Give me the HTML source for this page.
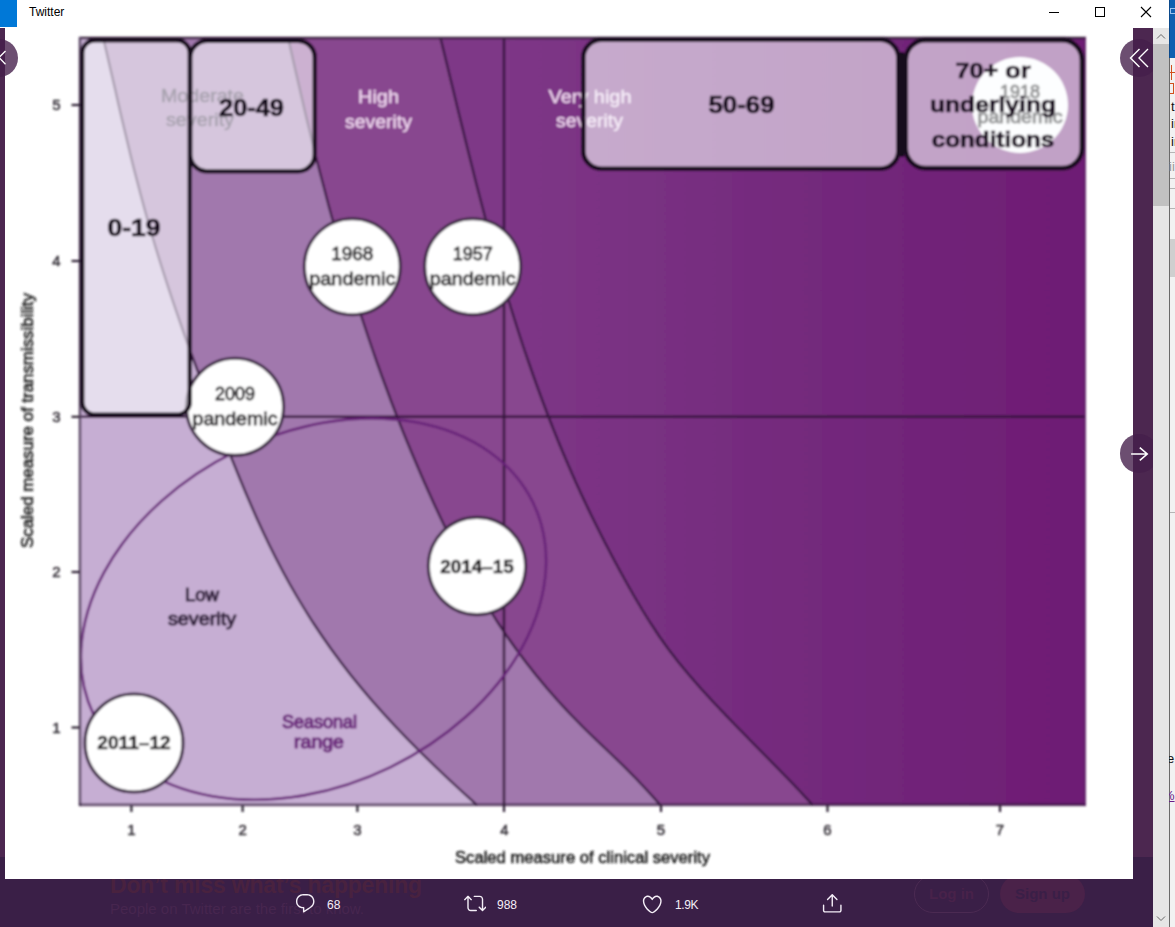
<!DOCTYPE html>
<html><head><meta charset="utf-8"><title>Twitter</title>
<style>
html,body{margin:0;padding:0}
body{width:1175px;height:927px;position:relative;overflow:hidden;background:#fff;font-family:"Liberation Sans", sans-serif}
.abs{position:absolute}
.cnt{position:absolute;color:#f4eef7;font-size:12px;line-height:14px;top:898px}
.ghost{position:absolute;color:#49223f;white-space:nowrap}
.pill{position:absolute;top:875px;height:36px;border-radius:19px;font-weight:bold;font-size:15px;line-height:36px;text-align:center}
.nav{position:absolute;width:38px;height:38px;border-radius:50%;background:rgba(69,30,75,0.79)}
</style></head><body>
<!-- lightbox backdrop strips -->
<div class="abs" style="left:0;top:28px;width:1153px;height:899px;background:#4c2750"></div>
<div class="abs" style="left:0;top:857px;width:1153px;height:70px;background:#3a1f47"></div>
<!-- ghost banner under the bar -->
<div class="ghost" style="left:110px;top:872px;font-size:23px;font-weight:bold;line-height:26px;letter-spacing:-0.2px">Don’t miss what’s happening</div>
<div class="ghost" style="left:110px;top:900px;font-size:15px;line-height:18px;color:#47264f">People on Twitter are the first to know.</div>
<div class="pill" style="left:914px;width:73px;border:1px solid #4b2a52;color:#48224a">Log in</div>
<div class="pill" style="left:1000px;width:85px;height:38px;line-height:38px;background:#4a2249;color:#3a1f47">Sign up</div>
<!-- white image panel -->
<div class="abs" style="left:5px;top:28px;width:1128px;height:851px;background:#fff"></div>
<!-- title bar -->
<div class="abs" style="left:0;top:0;width:1169px;height:28px;background:#fff"></div>
<div class="abs" style="left:0;top:0;width:17px;height:27px;background:#0078d7"></div>
<div class="abs" style="left:29px;top:5px;font-size:12px;line-height:15px;color:#000">Twitter</div>
<div class="abs" style="left:1049px;top:12px;width:10px;height:1px;background:#000"></div>
<div class="abs" style="left:1095px;top:7px;width:8px;height:8px;border:1px solid #000"></div>
<svg class="abs" style="left:1140px;top:6px" width="12" height="12" viewBox="0 0 12 12"><path d="M1 1L11 11M11 1L1 11" stroke="#000" stroke-width="1.1" fill="none"/></svg>
<svg width="1175" height="927" viewBox="0 0 1175 927" style="position:absolute;left:0;top:0" font-family='"Liberation Sans", sans-serif'>
<defs>
<linearGradient id="vh" x1="504" x2="1085" y1="0" y2="0" gradientUnits="userSpaceOnUse"><stop offset="0" stop-color="#7e3787"/><stop offset="0.5" stop-color="#742a7d"/><stop offset="1" stop-color="#6e1c74"/></linearGradient>
<clipPath id="cc"><rect x="79" y="37" width="1006.5" height="768.5"/></clipPath>
<filter id="bl" x="-2%" y="-2%" width="104%" height="104%"><feGaussianBlur stdDeviation="0.8"/></filter>
</defs>
<g filter="url(#bl)">
<g clip-path="url(#cc)">
<rect x="79" y="37" width="1007" height="769" fill="url(#vh)"/>
<path d="M440.5 38.0 L443.7 51.0 L446.9 64.0 L450.0 77.0 L453.2 90.0 L456.3 103.0 L459.5 116.0 L462.7 129.0 L465.9 142.0 L469.1 155.0 L472.4 168.0 L475.6 181.0 L479.0 194.0 L482.4 207.0 L485.8 220.0 L489.3 233.0 L492.9 246.0 L496.5 259.0 L500.2 272.0 L504.0 285.0 L507.9 298.0 L511.9 311.0 L516.0 324.0 L520.1 337.0 L524.4 350.0 L528.9 363.0 L533.4 376.0 L538.1 389.0 L542.9 402.0 L547.8 415.0 L552.9 428.0 L558.1 441.0 L563.5 454.0 L569.1 467.0 L574.8 480.0 L580.7 493.0 L586.8 506.0 L593.1 519.0 L599.6 532.0 L606.2 545.0 L613.0 558.0 L620.0 571.0 L627.2 584.0 L634.6 597.0 L642.3 610.0 L650.4 623.0 L659.0 636.0 L668.3 649.0 L678.3 662.0 L689.1 675.0 L700.4 688.0 L712.3 701.0 L724.6 714.0 L737.2 727.0 L749.9 740.0 L762.7 753.0 L775.5 766.0 L788.2 779.0 L800.6 792.0 L812.6 805.0 L80 805 L80 38 Z" fill="#88468f"/>
<path d="M288.2 38.0 L291.1 51.0 L294.0 64.0 L297.0 77.0 L300.0 90.0 L303.0 103.0 L306.0 116.0 L309.2 129.0 L312.3 142.0 L315.5 155.0 L318.8 168.0 L322.2 181.0 L325.6 194.0 L329.0 207.0 L332.6 220.0 L336.2 233.0 L339.9 246.0 L343.7 259.0 L347.5 272.0 L351.5 285.0 L355.5 298.0 L359.6 311.0 L363.9 324.0 L368.2 337.0 L372.6 350.0 L377.1 363.0 L381.8 376.0 L386.6 389.0 L391.4 402.0 L396.4 415.0 L401.5 428.0 L406.8 441.0 L412.2 454.0 L417.7 467.0 L423.3 480.0 L429.1 493.0 L435.0 506.0 L441.1 519.0 L447.3 532.0 L453.8 545.0 L460.4 558.0 L467.3 571.0 L474.5 584.0 L482.0 597.0 L489.9 610.0 L498.1 623.0 L506.8 636.0 L516.0 649.0 L525.7 662.0 L535.9 675.0 L546.7 688.0 L558.1 701.0 L570.2 714.0 L582.9 727.0 L596.3 740.0 L610.0 753.0 L623.5 766.0 L636.4 779.0 L648.6 792.0 L660.3 805.0 L80 805 L80 38 Z" fill="#a178ad"/>
<path d="M103.2 38.0 L106.3 51.0 L109.3 64.0 L112.3 77.0 L115.3 90.0 L118.2 103.0 L121.2 116.0 L124.3 129.0 L127.4 142.0 L130.5 155.0 L133.7 168.0 L137.1 181.0 L140.5 194.0 L144.0 207.0 L147.6 220.0 L151.4 233.0 L155.2 246.0 L159.2 259.0 L163.3 272.0 L167.5 285.0 L171.8 298.0 L176.2 311.0 L180.7 324.0 L185.2 337.0 L189.9 350.0 L194.7 363.0 L199.5 376.0 L204.4 389.0 L209.4 402.0 L214.4 415.0 L219.5 428.0 L224.6 441.0 L229.8 454.0 L235.1 467.0 L240.4 480.0 L245.8 493.0 L251.4 506.0 L257.1 519.0 L263.1 532.0 L269.3 545.0 L275.8 558.0 L282.6 571.0 L289.7 584.0 L297.2 597.0 L305.1 610.0 L313.3 623.0 L322.0 636.0 L331.1 649.0 L340.7 662.0 L350.7 675.0 L361.3 688.0 L372.3 701.0 L383.9 714.0 L395.9 727.0 L408.4 740.0 L421.4 753.0 L434.7 766.0 L448.4 779.0 L462.5 792.0 L476.9 805.0 L80 805 L80 38 Z" fill="#c6aed3"/>
<path d="M103.2 38.0 L106.3 51.0 L109.3 64.0 L112.3 77.0 L115.3 90.0 L118.2 103.0 L121.2 116.0 L124.3 129.0 L127.4 142.0 L130.5 155.0 L133.7 168.0 L137.1 181.0 L140.5 194.0 L144.0 207.0 L147.6 220.0 L151.4 233.0 L155.2 246.0 L159.2 259.0 L163.3 272.0 L167.5 285.0 L171.8 298.0 L176.2 311.0 L180.7 324.0 L185.2 337.0 L189.9 350.0 L194.7 363.0 L199.5 376.0 L204.4 389.0 L209.4 402.0 L214.4 415.0 L219.5 428.0 L224.6 441.0 L229.8 454.0 L235.1 467.0 L240.4 480.0 L245.8 493.0 L251.4 506.0 L257.1 519.0 L263.1 532.0 L269.3 545.0 L275.8 558.0 L282.6 571.0 L289.7 584.0 L297.2 597.0 L305.1 610.0 L313.3 623.0 L322.0 636.0 L331.1 649.0 L340.7 662.0 L350.7 675.0 L361.3 688.0 L372.3 701.0 L383.9 714.0 L395.9 727.0 L408.4 740.0 L421.4 753.0 L434.7 766.0 L448.4 779.0 L462.5 792.0 L476.9 805.0" fill="none" stroke="#35183f" stroke-width="2.3"/>
<path d="M288.2 38.0 L291.1 51.0 L294.0 64.0 L297.0 77.0 L300.0 90.0 L303.0 103.0 L306.0 116.0 L309.2 129.0 L312.3 142.0 L315.5 155.0 L318.8 168.0 L322.2 181.0 L325.6 194.0 L329.0 207.0 L332.6 220.0 L336.2 233.0 L339.9 246.0 L343.7 259.0 L347.5 272.0 L351.5 285.0 L355.5 298.0 L359.6 311.0 L363.9 324.0 L368.2 337.0 L372.6 350.0 L377.1 363.0 L381.8 376.0 L386.6 389.0 L391.4 402.0 L396.4 415.0 L401.5 428.0 L406.8 441.0 L412.2 454.0 L417.7 467.0 L423.3 480.0 L429.1 493.0 L435.0 506.0 L441.1 519.0 L447.3 532.0 L453.8 545.0 L460.4 558.0 L467.3 571.0 L474.5 584.0 L482.0 597.0 L489.9 610.0 L498.1 623.0 L506.8 636.0 L516.0 649.0 L525.7 662.0 L535.9 675.0 L546.7 688.0 L558.1 701.0 L570.2 714.0 L582.9 727.0 L596.3 740.0 L610.0 753.0 L623.5 766.0 L636.4 779.0 L648.6 792.0 L660.3 805.0" fill="none" stroke="#35183f" stroke-width="2.3"/>
<path d="M440.5 38.0 L443.7 51.0 L446.9 64.0 L450.0 77.0 L453.2 90.0 L456.3 103.0 L459.5 116.0 L462.7 129.0 L465.9 142.0 L469.1 155.0 L472.4 168.0 L475.6 181.0 L479.0 194.0 L482.4 207.0 L485.8 220.0 L489.3 233.0 L492.9 246.0 L496.5 259.0 L500.2 272.0 L504.0 285.0 L507.9 298.0 L511.9 311.0 L516.0 324.0 L520.1 337.0 L524.4 350.0 L528.9 363.0 L533.4 376.0 L538.1 389.0 L542.9 402.0 L547.8 415.0 L552.9 428.0 L558.1 441.0 L563.5 454.0 L569.1 467.0 L574.8 480.0 L580.7 493.0 L586.8 506.0 L593.1 519.0 L599.6 532.0 L606.2 545.0 L613.0 558.0 L620.0 571.0 L627.2 584.0 L634.6 597.0 L642.3 610.0 L650.4 623.0 L659.0 636.0 L668.3 649.0 L678.3 662.0 L689.1 675.0 L700.4 688.0 L712.3 701.0 L724.6 714.0 L737.2 727.0 L749.9 740.0 L762.7 753.0 L775.5 766.0 L788.2 779.0 L800.6 792.0 L812.6 805.0" fill="none" stroke="#35183f" stroke-width="2.3"/>
<line x1="80" x2="1085" y1="416.8" y2="416.8" stroke="#34123c" stroke-width="2.5"/>
<line x1="504" x2="504" y1="38" y2="812" stroke="#34123c" stroke-width="2.5"/>
<ellipse cx="313.5" cy="609.1" rx="244" ry="175.8" transform="rotate(-25.84 313.5 609.1)" fill="none" stroke="#682379" stroke-width="2.6"/>
</g>
<line x1="79" x2="1086" y1="38" y2="38" stroke="#3a2240" stroke-width="2.4"/>
<line x1="80" x2="80" y1="37" y2="806" stroke="#5d4a66" stroke-width="2.6"/>
<line x1="79" x2="1086" y1="804.8" y2="804.8" stroke="rgba(40,20,50,0.58)" stroke-width="3"/>
<line x1="1085" x2="1085" y1="37" y2="806" stroke="#5a2062" stroke-width="1.5"/>
<line x1="131.4" x2="131.4" y1="805" y2="812" stroke="#2a2030" stroke-width="2.2"/>
<line x1="242.6" x2="242.6" y1="805" y2="812" stroke="#2a2030" stroke-width="2.2"/>
<line x1="357.4" x2="357.4" y1="805" y2="812" stroke="#2a2030" stroke-width="2.2"/>
<line x1="504" x2="504" y1="805" y2="812" stroke="#2a2030" stroke-width="2.2"/>
<line x1="661" x2="661" y1="805" y2="812" stroke="#2a2030" stroke-width="2.2"/>
<line x1="827.5" x2="827.5" y1="805" y2="812" stroke="#2a2030" stroke-width="2.2"/>
<line x1="1000" x2="1000" y1="805" y2="812" stroke="#2a2030" stroke-width="2.2"/>
<line x1="71.5" x2="80" y1="105" y2="105" stroke="#2a2030" stroke-width="2.2"/>
<line x1="71.5" x2="80" y1="261" y2="261" stroke="#2a2030" stroke-width="2.2"/>
<line x1="71.5" x2="80" y1="416.8" y2="416.8" stroke="#2a2030" stroke-width="2.2"/>
<line x1="71.5" x2="80" y1="572" y2="572" stroke="#2a2030" stroke-width="2.2"/>
<line x1="71.5" x2="80" y1="727.5" y2="727.5" stroke="#2a2030" stroke-width="2.2"/>
<text x="131.4" y="835" font-size="15" fill="#37323a" font-weight="normal" text-anchor="middle"  stroke="#37323a" stroke-width="0.55" stroke-linejoin="round">1</text>
<text x="242.6" y="835" font-size="15" fill="#37323a" font-weight="normal" text-anchor="middle"  stroke="#37323a" stroke-width="0.55" stroke-linejoin="round">2</text>
<text x="357.4" y="835" font-size="15" fill="#37323a" font-weight="normal" text-anchor="middle"  stroke="#37323a" stroke-width="0.55" stroke-linejoin="round">3</text>
<text x="504.5" y="835" font-size="15" fill="#37323a" font-weight="normal" text-anchor="middle"  stroke="#37323a" stroke-width="0.55" stroke-linejoin="round">4</text>
<text x="661" y="835" font-size="15" fill="#37323a" font-weight="normal" text-anchor="middle"  stroke="#37323a" stroke-width="0.55" stroke-linejoin="round">5</text>
<text x="827.5" y="835" font-size="15" fill="#37323a" font-weight="normal" text-anchor="middle"  stroke="#37323a" stroke-width="0.55" stroke-linejoin="round">6</text>
<text x="1000" y="835" font-size="15" fill="#37323a" font-weight="normal" text-anchor="middle"  stroke="#37323a" stroke-width="0.55" stroke-linejoin="round">7</text>
<text x="56.5" y="110.3" font-size="15" fill="#37323a" font-weight="normal" text-anchor="middle"  stroke="#37323a" stroke-width="0.55" stroke-linejoin="round">5</text>
<text x="56.5" y="266.3" font-size="15" fill="#37323a" font-weight="normal" text-anchor="middle"  stroke="#37323a" stroke-width="0.55" stroke-linejoin="round">4</text>
<text x="56.5" y="422.1" font-size="15" fill="#37323a" font-weight="normal" text-anchor="middle"  stroke="#37323a" stroke-width="0.55" stroke-linejoin="round">3</text>
<text x="56.5" y="577.3" font-size="15" fill="#37323a" font-weight="normal" text-anchor="middle"  stroke="#37323a" stroke-width="0.55" stroke-linejoin="round">2</text>
<text x="56.5" y="732.8" font-size="15" fill="#37323a" font-weight="normal" text-anchor="middle"  stroke="#37323a" stroke-width="0.55" stroke-linejoin="round">1</text>
<text x="582.5" y="863" font-size="16" fill="#1e1e1e" font-weight="normal" text-anchor="middle" textLength="255" lengthAdjust="spacingAndGlyphs"  stroke="#1e1e1e" stroke-width="0.55" stroke-linejoin="round">Scaled measure of clinical severity</text>
<text transform="translate(33 420.5) rotate(-90)" font-size="16" fill="#1e1e1e" stroke="#1e1e1e" stroke-width="0.55" text-anchor="middle" textLength="255" lengthAdjust="spacingAndGlyphs">Scaled measure of transmissibility</text>
<circle cx="235" cy="406.8" r="48.6" fill="#ffffff" stroke="#3c2c45" stroke-width="3.1"/>
<text x="235" y="400" font-size="17.5" fill="#1c1a1d" font-weight="normal" text-anchor="middle" textLength="40" lengthAdjust="spacingAndGlyphs"  stroke="#1c1a1d" stroke-width="0.8" stroke-linejoin="round">2009</text>
<text x="235" y="424.5" font-size="18.5" fill="#1c1a1d" font-weight="normal" text-anchor="middle" textLength="85" lengthAdjust="spacingAndGlyphs"  stroke="#1c1a1d" stroke-width="0.8" stroke-linejoin="round">pandemic</text>
<circle cx="352.3" cy="266.7" r="48" fill="#ffffff" stroke="#3c2c45" stroke-width="3.1"/>
<text x="352.3" y="259.5" font-size="17.5" fill="#1c1a1d" font-weight="normal" text-anchor="middle" textLength="42" lengthAdjust="spacingAndGlyphs"  stroke="#1c1a1d" stroke-width="0.8" stroke-linejoin="round">1968</text>
<text x="352.3" y="284.5" font-size="18.5" fill="#1c1a1d" font-weight="normal" text-anchor="middle" textLength="86" lengthAdjust="spacingAndGlyphs"  stroke="#1c1a1d" stroke-width="0.8" stroke-linejoin="round">pandemic</text>
<circle cx="472.7" cy="266.7" r="48" fill="#ffffff" stroke="#3c2c45" stroke-width="3.1"/>
<text x="472.7" y="259.5" font-size="17.5" fill="#1c1a1d" font-weight="normal" text-anchor="middle" textLength="40" lengthAdjust="spacingAndGlyphs"  stroke="#1c1a1d" stroke-width="0.8" stroke-linejoin="round">1957</text>
<text x="472.7" y="284.5" font-size="18.5" fill="#1c1a1d" font-weight="normal" text-anchor="middle" textLength="86" lengthAdjust="spacingAndGlyphs"  stroke="#1c1a1d" stroke-width="0.8" stroke-linejoin="round">pandemic</text>
<circle cx="477" cy="566" r="48.6" fill="#ffffff" stroke="#3c2c45" stroke-width="3.1"/>
<text x="477" y="573" font-size="18" fill="#1c1a1d" font-weight="bold" text-anchor="middle" textLength="73.5" lengthAdjust="spacingAndGlyphs" stroke="#1c1a1d" stroke-width="0.5">2014–15</text>
<circle cx="134" cy="743" r="49" fill="#ffffff" stroke="#3c2c45" stroke-width="3.1"/>
<text x="134" y="749" font-size="18" fill="#1c1a1d" font-weight="bold" text-anchor="middle" textLength="73.5" lengthAdjust="spacingAndGlyphs" stroke="#1c1a1d" stroke-width="0.5">2011–12</text>
<circle cx="1020" cy="105" r="48" fill="#ffffff"/>
<text x="1020" y="98" font-size="17.5" fill="#0c0c0c" font-weight="normal" text-anchor="middle" textLength="40" lengthAdjust="spacingAndGlyphs"  stroke="#0c0c0c" stroke-width="1.1" stroke-linejoin="round">1918</text>
<text x="1020" y="123" font-size="18.5" fill="#0c0c0c" font-weight="normal" text-anchor="middle" textLength="85" lengthAdjust="spacingAndGlyphs"  stroke="#0c0c0c" stroke-width="1.1" stroke-linejoin="round">pandemic</text>
<text x="202.5" y="102.3" font-size="17.5" fill="#33233f" font-weight="normal" text-anchor="middle" textLength="83" lengthAdjust="spacingAndGlyphs"  stroke="#33233f" stroke-width="0.5" stroke-linejoin="round">Moderate</text>
<text x="200" y="126" font-size="17.5" fill="#33233f" font-weight="normal" text-anchor="middle" textLength="68" lengthAdjust="spacingAndGlyphs"  stroke="#33233f" stroke-width="0.5" stroke-linejoin="round">severity</text>
<text x="378.5" y="103" font-size="17.5" fill="#f0d8f0" font-weight="normal" text-anchor="middle" textLength="41" lengthAdjust="spacingAndGlyphs"  stroke="#f0d8f0" stroke-width="0.3" stroke-linejoin="round">High</text>
<text x="378.5" y="127.5" font-size="17.5" fill="#f0d8f0" font-weight="normal" text-anchor="middle" textLength="67" lengthAdjust="spacingAndGlyphs"  stroke="#f0d8f0" stroke-width="0.3" stroke-linejoin="round">severity</text>
<text x="590" y="102.5" font-size="17.5" fill="#f0d8f0" font-weight="normal" text-anchor="middle" textLength="83" lengthAdjust="spacingAndGlyphs"  stroke="#f0d8f0" stroke-width="0.3" stroke-linejoin="round">Very high</text>
<text x="589.5" y="127" font-size="17.5" fill="#f0d8f0" font-weight="normal" text-anchor="middle" textLength="67" lengthAdjust="spacingAndGlyphs"  stroke="#f0d8f0" stroke-width="0.3" stroke-linejoin="round">severity</text>
<text x="202" y="601" font-size="18" fill="#382843" font-weight="normal" text-anchor="middle" textLength="34" lengthAdjust="spacingAndGlyphs"  stroke="#382843" stroke-width="1.2" stroke-linejoin="round">Low</text>
<text x="202" y="624.5" font-size="18" fill="#382843" font-weight="normal" text-anchor="middle" textLength="68" lengthAdjust="spacingAndGlyphs"  stroke="#382843" stroke-width="1.2" stroke-linejoin="round">severity</text>
<text x="319.5" y="727.5" font-size="18" fill="#6c277c" font-weight="normal" text-anchor="middle" textLength="75" lengthAdjust="spacingAndGlyphs"  stroke="#6c277c" stroke-width="1.2" stroke-linejoin="round">Seasonal</text>
<text x="319" y="747.5" font-size="18" fill="#6c277c" font-weight="normal" text-anchor="middle" textLength="50" lengthAdjust="spacingAndGlyphs"  stroke="#6c277c" stroke-width="1.2" stroke-linejoin="round">range</text>
<rect x="82.2" y="40.2" width="107.6" height="374.6" rx="13" fill="rgba(251,253,255,0.59)" stroke="#170b1d" stroke-width="4.4"/>
<rect x="190.2" y="40.7" width="124.6" height="130.7" rx="17" fill="rgba(251,253,255,0.59)" stroke="#170b1d" stroke-width="4.4"/>
<rect x="583.3" y="39.8" width="315.1" height="128.9" rx="18" fill="rgba(251,253,255,0.59)" stroke="#170b1d" stroke-width="4.6"/>
<rect x="905.6999999999999" y="40.0" width="176.30000000000013" height="128.2" rx="20" fill="rgba(251,253,255,0.59)" stroke="#170b1d" stroke-width="4.8"/>
<line x1="902" x2="902" y1="52" y2="157" stroke="#170b1d" stroke-width="4"/>
<text x="134" y="236" font-size="23" fill="#170b1d" font-weight="bold" text-anchor="middle" textLength="53" lengthAdjust="spacingAndGlyphs" stroke="#170b1d" stroke-width="0.7">0-19</text>
<text x="251.5" y="116" font-size="23" fill="#170b1d" font-weight="bold" text-anchor="middle" textLength="65" lengthAdjust="spacingAndGlyphs" stroke="#170b1d" stroke-width="0.7">20-49</text>
<text x="741.5" y="112.5" font-size="23" fill="#170b1d" font-weight="bold" text-anchor="middle" textLength="66" lengthAdjust="spacingAndGlyphs" stroke="#170b1d" stroke-width="0.7">50-69</text>
<text x="993" y="78" font-size="22.3" fill="#1b0d22" font-weight="bold" text-anchor="middle" textLength="75" lengthAdjust="spacingAndGlyphs" stroke="#170b1d" stroke-width="0.7">70+ or</text>
<text x="993" y="112" font-size="22.3" fill="#1b0d22" font-weight="bold" text-anchor="middle" textLength="126" lengthAdjust="spacingAndGlyphs" stroke="#170b1d" stroke-width="0.7">underlying</text>
<text x="993" y="147" font-size="22.3" fill="#1b0d22" font-weight="bold" text-anchor="middle" textLength="122.5" lengthAdjust="spacingAndGlyphs" stroke="#170b1d" stroke-width="0.7">conditions</text>
</g>
</svg>
<!-- bottom bar actions -->
<svg style="position:absolute;left:294.25px;top:892.05px" width="22.5" height="22.5" viewBox="0 0 24 24" fill="#f4eef7"><path d="M14.046 2.242l-4.148-.01h-.002c-4.374 0-7.8 3.427-7.8 7.802 0 4.098 3.186 7.206 7.465 7.37v3.828c0 .108.044.286.12.403.142.225.384.347.632.347.138 0 .277-.038.402-.118.264-.168 6.473-4.14 8.088-5.506 1.902-1.61 3.04-3.97 3.043-6.312v-.017c-.006-4.367-3.43-7.787-7.8-7.788zm3.787 12.972c-1.134.96-4.862 3.405-6.772 4.643V16.67c0-.414-.335-.75-.75-.75h-.396c-3.66 0-6.318-2.476-6.318-5.886 0-3.534 2.768-6.302 6.3-6.302l4.147.01h.002c3.532 0 6.3 2.766 6.302 6.296-.003 1.91-.942 3.844-2.514 5.176z"/></svg>
<div class="cnt" style="left:327px">68</div>
<svg style="position:absolute;left:463.75px;top:892.25px" width="22.5" height="22.5" viewBox="0 0 24 24" fill="#f4eef7"><path d="M23.77 15.67c-.292-.293-.767-.293-1.06 0l-2.22 2.22V7.65c0-2.068-1.683-3.75-3.75-3.75h-5.85c-.414 0-.75.336-.75.75s.336.75.75.75h5.85c1.24 0 2.25 1.01 2.25 2.25v10.24l-2.22-2.22c-.293-.293-.768-.293-1.06 0s-.294.768 0 1.06l3.5 3.5c.145.147.337.22.53.22s.383-.072.53-.22l3.5-3.5c.294-.292.294-.767 0-1.06zm-10.66 3.28H7.26c-1.24 0-2.25-1.01-2.25-2.25V6.46l2.22 2.22c.148.147.34.22.532.22s.384-.073.53-.22c.293-.293.293-.768 0-1.06l-3.5-3.5c-.293-.294-.768-.294-1.06 0l-3.5 3.5c-.294.292-.294.767 0 1.06s.767.293 1.06 0l2.22-2.22V16.7c0 2.068 1.683 3.75 3.75 3.75h5.85c.414 0 .75-.336.75-.75s-.337-.75-.75-.75z"/></svg>
<div class="cnt" style="left:497px">988</div>
<svg style="position:absolute;left:641.25px;top:892.55px" width="22.5" height="22.5" viewBox="0 0 24 24" fill="#f4eef7"><path d="M12 21.638h-.014C9.403 21.59 1.95 14.856 1.95 8.478c0-3.064 2.525-5.754 5.403-5.754 2.29 0 3.83 1.58 4.646 2.73.814-1.148 2.354-2.73 4.645-2.73 2.88 0 5.404 2.69 5.404 5.755 0 6.376-7.454 13.11-10.037 13.157H12zM7.354 4.225c-2.08 0-3.903 1.988-3.903 4.255 0 5.74 7.034 11.596 8.55 11.658 1.518-.062 8.55-5.917 8.55-11.658 0-2.267-1.823-4.255-3.903-4.255-2.528 0-3.94 2.936-3.952 2.965-.23.562-1.156.562-1.387 0-.014-.03-1.425-2.965-3.954-2.965z"/></svg>
<div class="cnt" style="left:675px;letter-spacing:-0.4px">1.9K</div>
<svg style="position:absolute;left:821.45px;top:892.05px" width="22.5" height="22.5" viewBox="0 0 24 24" fill="#f4eef7"><path d="M17.53 7.47l-5-5c-.293-.293-.768-.293-1.06 0l-5 5c-.294.293-.294.768 0 1.06s.767.294 1.06 0l3.72-3.72V15c0 .414.336.75.75.75s.75-.336.75-.75V4.81l3.72 3.72c.146.147.338.22.53.22s.384-.072.53-.22c.293-.293.293-.767 0-1.06z"/><path d="M19.708 21.944H4.292C3.028 21.944 2 20.916 2 19.652V14c0-.414.336-.75.75-.75s.75.336.75.75v5.652c0 .437.355.792.792.792h15.416c.437 0 .792-.355.792-.792V14c0-.414.336-.75.75-.75s.75.336.75.75v5.652c0 1.264-1.028 2.292-2.292 2.292z"/></svg>
<!-- nav circles -->
<div class="nav" style="left:-19.6px;top:38.8px"></div>
<svg class="abs" style="left:-3px;top:46px" width="12" height="22" viewBox="0 0 12 22"><path d="M8.5 5L2 11.6L8.5 18.2" stroke="#fff" stroke-width="1.4" fill="none"/></svg>
<div class="nav" style="left:1120px;top:38.6px"></div>
<svg class="abs" style="left:1128px;top:47.6px" width="22" height="20" viewBox="0 0 22 20"><path d="M11.5 1L2.5 10L11.5 19M20 1L11 10L20 19" stroke="#fff" stroke-width="1.4" fill="none"/></svg>
<div class="nav" style="left:1119.8px;top:434.4px;width:38.4px;height:38.4px"></div>
<svg class="abs" style="left:1128px;top:443.6px" width="22" height="20" viewBox="0 0 22 20"><path d="M3.1 10H19M11.8 3.7L19.2 10L11.8 16.3" stroke="#fff" stroke-width="1.6" fill="none"/></svg>
<!-- scrollbar -->
<div class="abs" style="left:1153px;top:28px;width:16px;height:899px;background:#e6e6e6"></div>
<div class="abs" style="left:1153px;top:44px;width:16px;height:162px;background:#c1c1c1"></div>
<svg class="abs" style="left:1153px;top:28px" width="16" height="16" viewBox="0 0 16 16"><path d="M4 10.5L8 6.5L12 10.5" stroke="#686868" stroke-width="1" fill="none"/></svg>
<svg class="abs" style="left:1153px;top:911px" width="16" height="16" viewBox="0 0 16 16"><path d="M4 5.5L8 9.5L12 5.5" stroke="#686868" stroke-width="1" fill="none"/></svg>
<!-- neighbouring window sliver -->
<div class="abs" style="left:1169px;top:0;width:6px;height:927px;background:#f2f2f2"></div>
<div class="abs" style="left:1169px;top:0;width:6px;height:58px;background:#0f60b0"></div>
<div class="abs" style="left:1169px;top:0;width:1px;height:927px;background:#6a6a6a"></div>
<div class="abs" style="left:1169px;top:0;width:1px;height:58px;background:#0b4a8c"></div>
<div class="abs" style="left:1170px;top:8px;width:5px;height:6px;border:1px solid #9cc3ee;border-right:0;box-sizing:border-box"></div>
<div class="abs" style="left:1170px;top:72px;width:5px;height:1px;background:#d2501e"></div>
<div class="abs" style="left:1170px;top:83px;width:4px;height:11px;border:1px solid #d2501e;border-left:0;box-sizing:border-box"></div>
<div class="abs" style="left:1171px;top:65px;width:1px;height:15px;background:#d2501e"></div>
<div class="abs" style="left:1169px;top:58px;width:6px;height:869px;overflow:hidden;font-size:13px;line-height:14px;color:#111">
<span class="abs" style="left:2px;top:42px">t</span><span class="abs" style="left:2px;top:59px">in</span><span class="abs" style="left:2px;top:77px">in</span><span class="abs" style="left:0px;top:102px;color:#999">ii</span>
<span class="abs" style="left:-2px;top:694px">e</span><span class="abs" style="left:-6px;top:731px;color:#6a1b8a;text-decoration:underline">%</span>
</div>
<div class="abs" style="left:1170px;top:239px;width:5px;height:38px;background:#cfcfcf"></div>
<div class="abs" style="left:1170px;top:152px;width:5px;height:1px;background:#b5b5b5"></div>
<div class="abs" style="left:1170px;top:178px;width:5px;height:1px;background:#b5b5b5"></div>
<div class="abs" style="left:1170px;top:188px;width:5px;height:1px;background:#b5b5b5"></div>
<div class="abs" style="left:1170px;top:208px;width:5px;height:1px;background:#b5b5b5"></div>
<div class="abs" style="left:1170px;top:512px;width:5px;height:1px;background:#b5b5b5"></div>
</body></html>
